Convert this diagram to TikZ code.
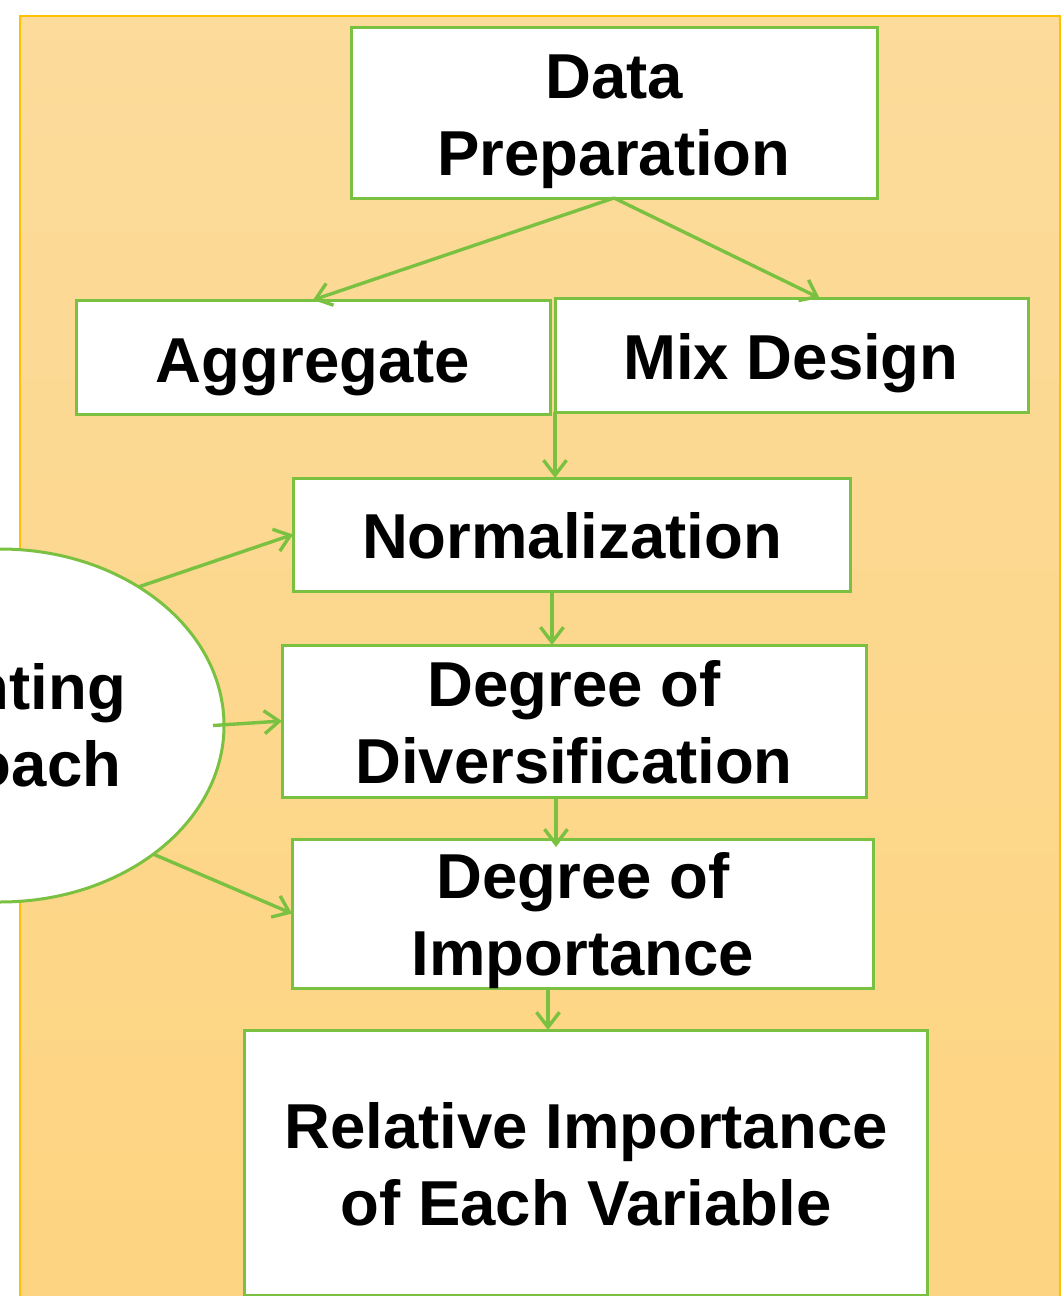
\documentclass[tikz,border=0pt]{standalone}
\usepackage{fontspec}
\setmainfont{Liberation Sans}
\usetikzlibrary{arrows.meta,shapes.geometric}
\definecolor{flowgreen}{RGB}{122,193,66}
\definecolor{panelyellow}{RGB}{255,192,0}
\definecolor{paneltop}{RGB}{252,219,155}
\definecolor{panelbottom}{RGB}{253,212,128}
\begin{document}
\begin{tikzpicture}[x=1pt,y=-1pt,
  stepbox/.style={draw=flowgreen, line width=3pt, fill=white, rectangle,
    inner sep=0pt, outer sep=0pt},
  lbl/.style={font=\fontsize{63.5}{77}\selectfont\bfseries, align=center,
    anchor=base, inner sep=0pt},
  conn/.style={draw=flowgreen, line width=3.4pt,
    -{Straight Barb[length=15pt,width=23pt]}},
]
\useasboundingbox (0,0) rectangle (1064,1296);
\clip (0,0) rectangle (1064,1296);

% background panel
\path[top color=paneltop, bottom color=panelbottom, draw=panelyellow,
  line width=2pt] (20,15.5) rectangle (1060,1320);

% weighting approach ellipse
\node[ellipse, draw=flowgreen, line width=3pt, fill=white,
  minimum width=448pt, minimum height=353pt, inner sep=0pt, outer sep=0pt]
  (ell) at (0,725.5) {};
% base anchor of a two-line label sits on its last line
\node[lbl] (tell) at (-27,786) {Weighting\\Approach};

% process boxes
\node[stepbox, minimum width=526pt, minimum height=171pt] (data) at (614,112.5) {};
\node[stepbox, minimum width=474pt, minimum height=114pt] (agg)  at (313,357) {};
\node[stepbox, minimum width=473pt, minimum height=114pt] (mix)  at (791.5,355) {};
\node[stepbox, minimum width=557pt, minimum height=113pt] (norm) at (571.5,534.5) {};
\node[stepbox, minimum width=584pt, minimum height=152pt] (div)  at (574,721) {};
\node[stepbox, minimum width=581pt, minimum height=149pt] (imp)  at (582.5,913.5) {};
\node[stepbox, minimum width=683pt, minimum height=265pt] (rel)  at (585.5,1162.5) {};

% box texts
\node[lbl] (tdata) at (614,175) {Data\\Preparation};
\node[lbl] (tagg)  at (313,382) {Aggregate};
\node[lbl] (tmix)  at (791,379) {Mix Design};
\node[lbl] (tnorm) at (572,558.5) {Normalization};
\node[lbl] (tdiv)  at (574,783) {Degree of\\Diversification};
\node[lbl] (timp)  at (583,975) {Degree of\\Importance};
\node[lbl] (trel)  at (586,1225) {Relative Importance\\of Each Variable};

% connectors
\coordinate (mixin) at ([xshift=28pt]mix.north);
\draw[conn] (data.south) -- (agg.north);
\draw[conn] (data.south) -- (mixin);
\draw[conn] (mix.south west) -- (mix.south west |- norm.north);
\coordinate (nout) at ([xshift=-19.5pt]norm.south);
\draw[conn] (nout) -- (nout |- div.north);
\coordinate (dout) at ([xshift=-18pt]div.south);
\coordinate (din) at ([yshift=-8pt]dout |- imp.north);
\draw[conn] (dout) -- (din);
\coordinate (iout) at ([xshift=-34.5pt]imp.south);
\draw[conn] (iout) -- (iout |- rel.north);
\draw[conn] (ell.45) -- (norm.west);
\draw[conn] ([xshift=-11pt]ell.east) -- (div.west);
\draw[conn] (ell.-40) -- (imp.west);
\end{tikzpicture}
\end{document}
